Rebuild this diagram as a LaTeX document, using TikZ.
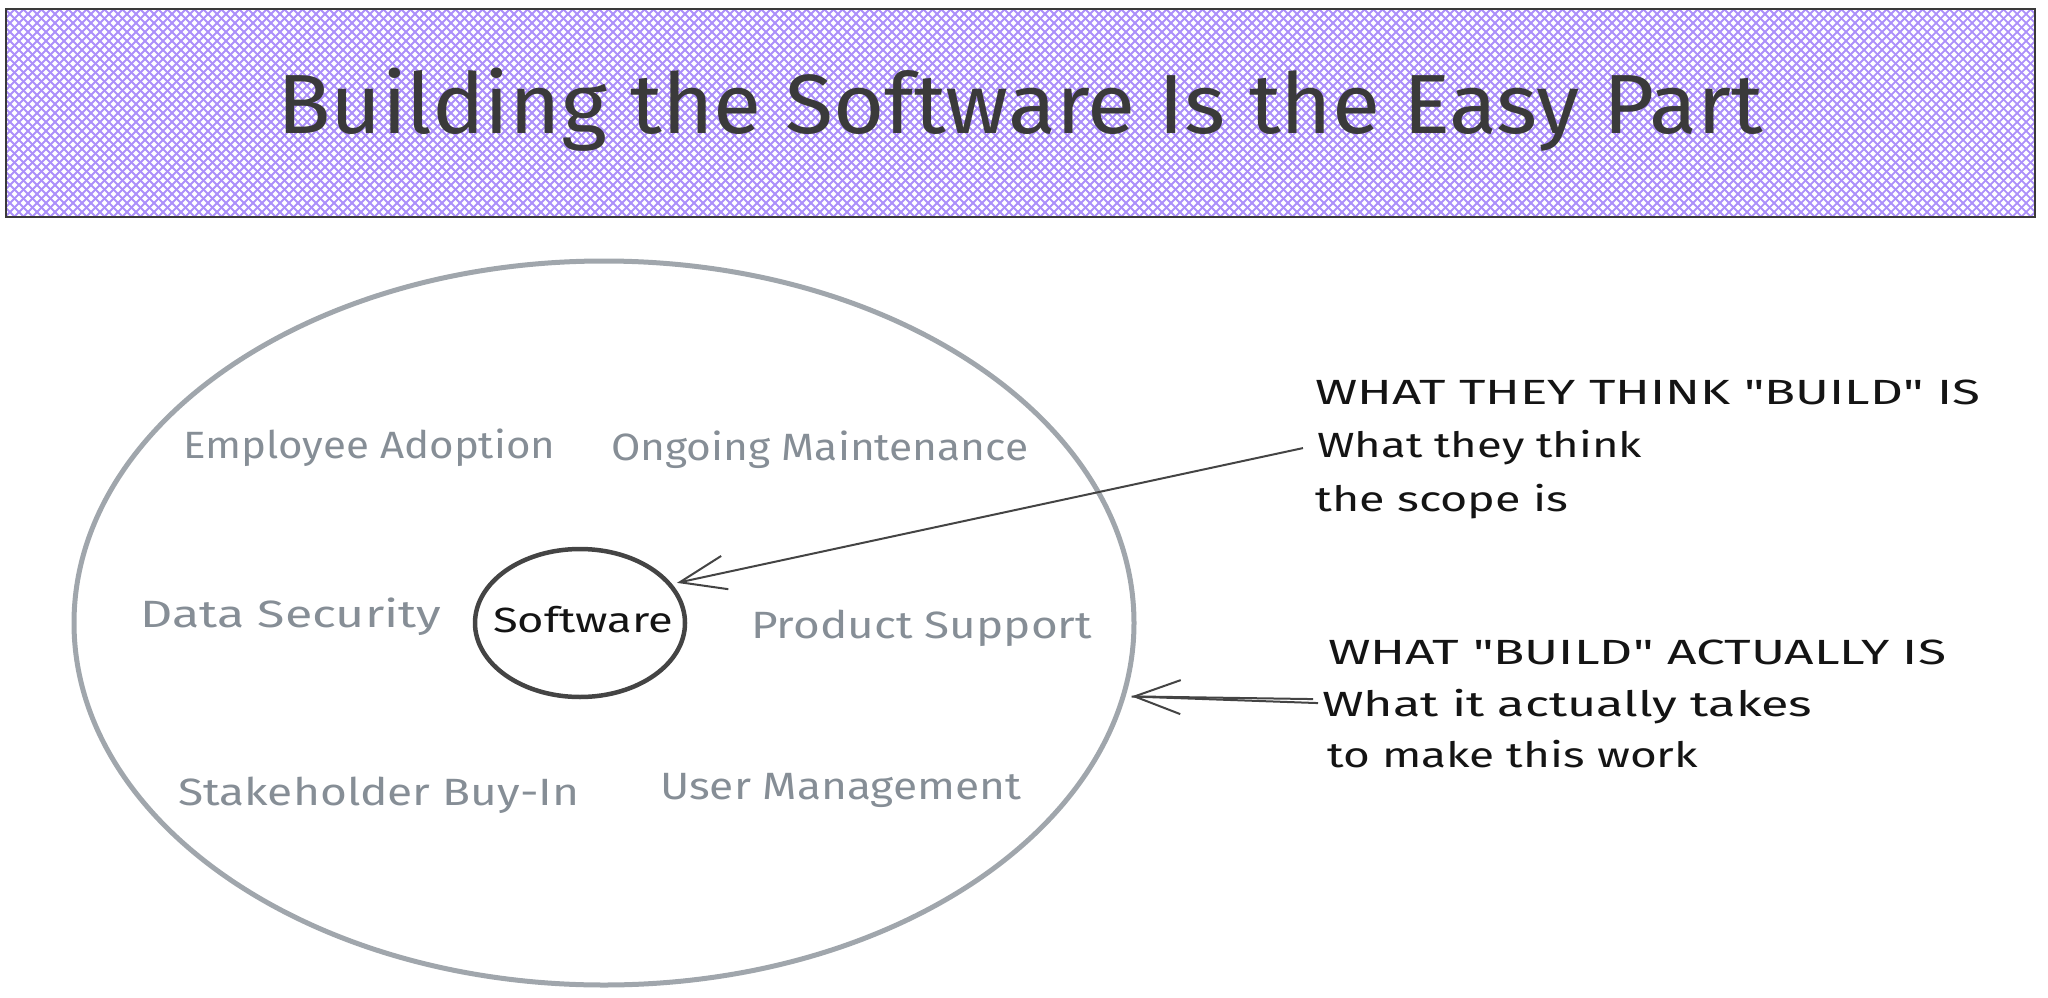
\documentclass[tikz,border=0pt]{standalone}
\usepackage{fontspec}
\setmainfont{Fira Sans}
\newfontfamily\plainsans{Fira Sans}
\usetikzlibrary{shapes.geometric,arrows.meta}
\definecolor{hatchc}{RGB}{172,144,250}
\definecolor{framec}{RGB}{58,58,58}
\definecolor{labelgray}{RGB}{134,142,150}
\definecolor{ovalgray}{RGB}{160,166,172}
\definecolor{inkdark}{RGB}{68,68,68}
\definecolor{inkblack}{RGB}{20,20,20}
\newsavebox\fitbox
\newcommand\fitw[2]{\sbox\fitbox{#2}\pgfmathsetmacro\fitx{#1/\the\wd\fitbox}\scalebox{\fitx}[1]{\usebox\fitbox}}
\begin{document}
\begin{tikzpicture}[x=1pt,y=-1pt,
  glabel/.style={anchor=base west, inner sep=0pt, text=labelgray, font=\fontsize{38}{44}\selectfont},
  note/.style={anchor=base west, inner sep=0pt, text=inkblack, font=\plainsans\fontsize{35}{40}\selectfont},
  arr/.style={draw=inkdark, line width=2pt, -{Straight Barb[length=46pt,width=34pt]}},
  hatchline/.style={draw=hatchc, line width=1.8pt}]
\useasboundingbox (0,0) rectangle (2048,998);
% title box
\begin{scope}
  \clip (6,9) rectangle (2035,217);
  \foreach \i in {-220,-211,...,2045} {
    \draw[hatchline] (\i,217) -- ++(208,-208);
    \draw[hatchline] (\i,9) -- ++(208,208);
  }
\end{scope}
\node[draw=framec, line width=2.5pt, minimum width=2029pt, minimum height=208pt, inner sep=0pt] (tbox) at (1020.5,113) {};
\node[anchor=base west, inner sep=0pt, text=framec, font=\fontsize{84}{92}\selectfont] (title) at (277,133) {\fitw{1486}{Building the Software Is the Easy Part}};
% big oval
\node[ellipse, draw=ovalgray, line width=5pt, minimum width=1060pt, minimum height=724pt, inner sep=0pt] (big) at (604,623) {};
% software oval
\node[ellipse, draw=inkdark, line width=4.5pt, minimum width=210pt, minimum height=148pt, inner sep=0pt] (sw) at (580,623) {};
\node[anchor=base west, inner sep=0pt, text=inkblack, font=\fontsize{35}{40}\selectfont] (swtext) at (493,632) {\fitw{180}{Software}};
% labels
\node[glabel] (ea) at (183,458) {\fitw{372}{Employee Adoption}};
\node[glabel] (om) at (611,460) {\fitw{417}{Ongoing Maintenance}};
\node[glabel] (ds) at (140,627) {\fitw{301}{Data Security}};
\node[glabel] (ps) at (751,638) {\fitw{341}{Product Support}};
\node[glabel] (sb) at (178,805) {\fitw{401}{Stakeholder Buy-In}};
\node[glabel] (um) at (660,799) {\fitw{361}{User Management}};
% notes
\node[note] (t1) at (1315,404) {\fitw{665}{WHAT THEY THINK "BUILD" IS}};
\node[note] (t2) at (1317,457) {\fitw{325}{What they think}};
\node[note] (t3) at (1315,511) {\fitw{253}{the scope is}};
\node[note] (a1) at (1328,664) {\fitw{618}{WHAT "BUILD" ACTUALLY IS}};
\node[note] (a2) at (1322,716) {\fitw{490}{What it actually takes}};
\node[note] (a3) at (1327,767) {\fitw{371}{to make this work}};
% arrows
\draw[arr, shorten >=5pt] ([xshift=-14pt,yshift=-1pt]t2.west) -- (sw.23);
\draw[arr, shorten >=6pt] ([xshift=-9pt,yshift=7pt]a2.west) -- (big.-8.5);
\draw[draw=inkdark, line width=2pt, shorten >=6pt] ([xshift=-4pt,yshift=3pt]a2.west) -- (big.-8.5);
\end{tikzpicture}
\end{document}
